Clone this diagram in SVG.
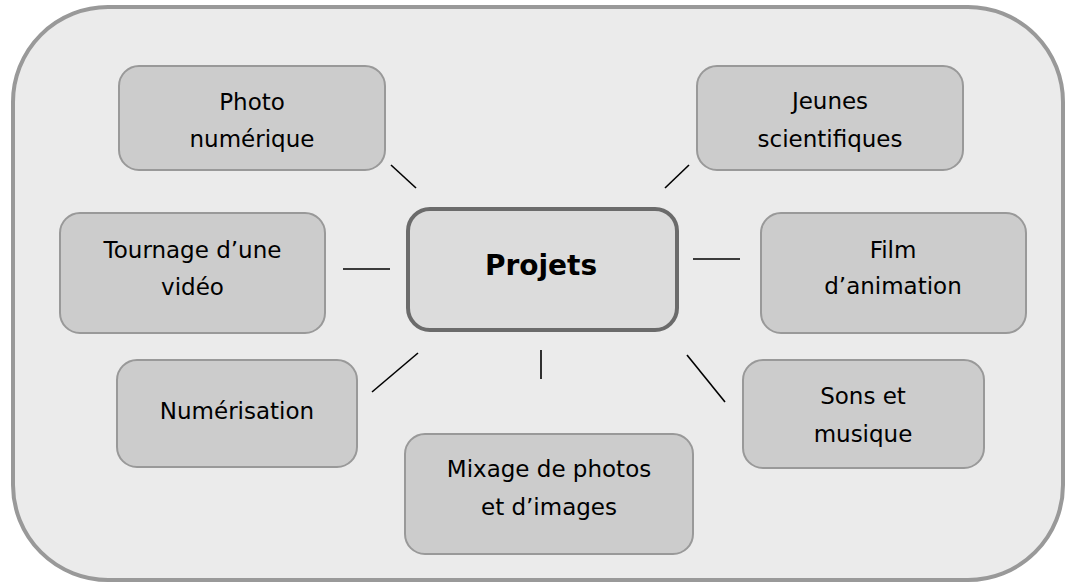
<svg xmlns="http://www.w3.org/2000/svg" width="1067" height="584" viewBox="0 0 1067 584">
<style>
.node{fill:#cccccc;stroke:#999999;stroke-width:2}
.t{font-family:"DejaVu Sans","Comic Sans MS",sans-serif;font-size:23px;fill:#000;text-anchor:middle}
.tb{font-family:"DejaVu Sans","Comic Sans MS",sans-serif;font-size:28px;font-weight:bold;fill:#000;text-anchor:middle}
.c line{stroke:#000;stroke-width:1.6}
</style>
<rect x="13" y="7" width="1050" height="573" rx="95" ry="95" fill="#ebebeb" stroke="#999999" stroke-width="4"/>
<g class="c" id="connectors">
<line x1="391" y1="165" x2="416" y2="188"/>
<line x1="665" y1="188" x2="689" y2="165"/>
<line x1="343" y1="269" x2="390" y2="269"/>
<line x1="693" y1="259" x2="740" y2="259"/>
<line x1="372" y1="392" x2="418" y2="353"/>
<line x1="541" y1="350" x2="541" y2="379"/>
<line x1="687" y1="355" x2="725" y2="402"/>
</g>
<g id="projets">
<rect x="408" y="209" width="269" height="121" rx="22" fill="#dcdcdc" stroke="#6b6b6b" stroke-width="4"/>
<text class="tb" x="541" y="275">Projets</text>
</g>
<g id="photo">
<rect class="node" x="119" y="66" width="266" height="104" rx="20"/>
<text class="t" x="252" y="110">Photo</text>
<text class="t" x="252" y="147">numérique</text>
</g>
<g id="jeunes">
<rect class="node" x="697" y="66" width="266" height="104" rx="20"/>
<text class="t" x="830" y="109">Jeunes</text>
<text class="t" x="830" y="147">scientifiques</text>
</g>
<g id="tournage">
<rect class="node" x="60" y="213" width="265" height="120" rx="20"/>
<text class="t" x="192.5" y="258">Tournage d’une</text>
<text class="t" x="192.5" y="295">vidéo</text>
</g>
<g id="film">
<rect class="node" x="761" y="213" width="265" height="120" rx="20"/>
<text class="t" x="893" y="258">Film</text>
<text class="t" x="893" y="294">d’animation</text>
</g>
<g id="numerisation">
<rect class="node" x="117" y="360" width="240" height="107" rx="20"/>
<text class="t" x="237" y="419">Numérisation</text>
</g>
<g id="sons">
<rect class="node" x="743" y="360" width="241" height="108" rx="20"/>
<text class="t" x="863" y="404">Sons et</text>
<text class="t" x="863" y="442">musique</text>
</g>
<g id="mixage">
<rect class="node" x="405" y="434" width="288" height="120" rx="20"/>
<text class="t" x="549" y="477">Mixage de photos</text>
<text class="t" x="549" y="515">et d’images</text>
</g>
</svg>
